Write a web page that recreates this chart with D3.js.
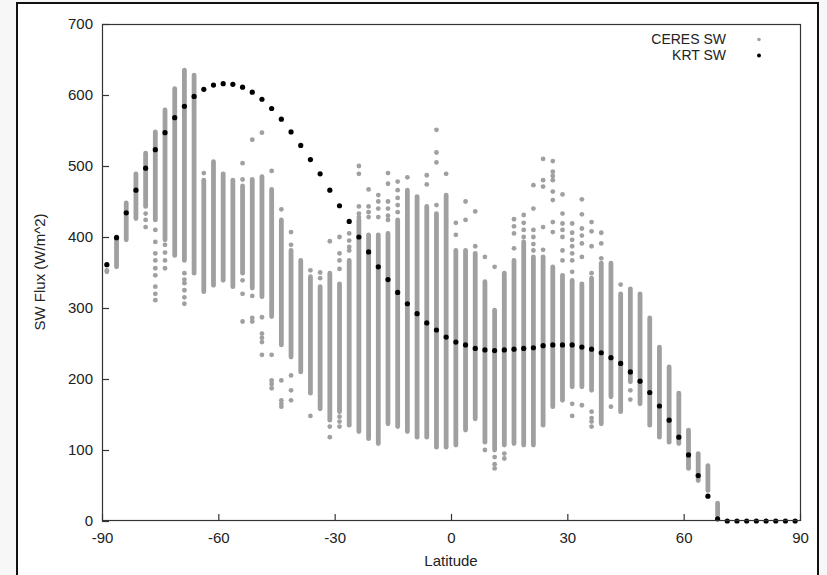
<!DOCTYPE html>
<html>
<head>
<meta charset="utf-8">
<script src="https://cdn.jsdelivr.net/npm/d3@7"></script>
<style>
  html, body { margin: 0; padding: 0; background: #f7f7f7; }
  svg { display: block; }
  text { font-family: "Liberation Sans", Arial, sans-serif; fill: #222; }
</style>
</head>
<body>
<svg id="chart" width="827" height="575"></svg>
<script>

// Latitude band centres (degrees)
var latitudes = [-88.75, -86.25, -83.75, -81.25, -78.75, -76.25, -73.75, -71.25, -68.75, -66.25,
    -63.75, -61.25, -58.75, -56.25, -53.75, -51.25, -48.75, -46.25, -43.75, -41.25,
    -38.75, -36.25, -33.75, -31.25, -28.75, -26.25, -23.75, -21.25, -18.75, -16.25,
    -13.75, -11.25, -8.75, -6.25, -3.75, -1.25, 1.25, 3.75, 6.25, 8.75,
    11.25, 13.75, 16.25, 18.75, 21.25, 23.75, 26.25, 28.75, 31.25, 33.75,
    36.25, 38.75, 41.25, 43.75, 46.25, 48.75, 51.25, 53.75, 56.25, 58.75,
    61.25, 63.75, 66.25, 68.75, 71.25, 73.75, 76.25, 78.75, 81.25, 83.75,
    86.25, 88.75];

// KRT SW flux, one value per band
var krtSW = [361, 399, 434, 466, 497, 523, 547, 568, 584, 598,
    608, 614, 616, 615, 611, 604, 594, 581, 566, 548,
    529, 509, 489, 466, 444, 422, 400, 379, 358, 340,
    322, 306, 292, 279, 269, 259, 252, 248, 243, 241,
    240, 241, 242, 243, 244, 247, 248, 248, 248, 245,
    242, 237, 230, 222, 210, 197, 181, 162, 142, 118,
    93, 64, 35, 3, 0, 0, 0, 0, 0, 0,
    0, 0];

// CERES SW: densely packed range of each band (low / high)
var ceresLow = [351, 358, 396, 426, 443, 424, 396, 374, 367, 349,
    323, 332, 339, 330, 349, 328, 316, 288, 248, 231,
    210, 180, 158, 142, 154, 135, 126, 116, 109, 137,
    133, 126, 118, 118, 104, 104, 107, 128, 144, 111,
    100, 107, 109, 107, 107, 135, 161, 170, 189, 189,
    184, 137, 175, 154, 196, 165, 135, 118, 111, 109,
    74, 57, 43, 8, 0, 0, 0, 0, 0, 0,
    0, 0];
var ceresHigh = [353, 400, 448, 489, 518, 548, 579, 609, 635, 628,
    480, 506, 489, 480, 472, 481, 485, 467, 424, 381,
    367, 344, 330, 349, 334, 367, 424, 403, 403, 405,
    424, 466, 457, 443, 433, 459, 381, 381, 377, 337,
    297, 349, 367, 393, 372, 372, 358, 346, 339, 334,
    342, 363, 363, 320, 327, 320, 286, 245, 217, 180,
    128, 95, 78, 25, 0, 0, 0, 0, 0, 0,
    0, 0];

// CERES SW: scattered points outside the dense range
var ceresOutliers = [[], [], [], [], [433, 424, 414],
    [410, 393, 377, 367, 356, 346, 330, 320, 311],
    [389, 378, 367, 356], [], [349, 340, 335, 325, 315, 306], [],
    [490], [], [], [], [504, 481, 339, 320, 281],
    [537, 317, 286, 281], [547, 287, 264, 258, 252, 234], [493, 234, 198, 193, 187],
    [439, 198, 170, 165, 161], [407, 389, 205, 184, 170],
    [], [353, 148], [350, 342], [394, 133, 118], [400, 377, 367, 355, 147, 140, 133],
    [405, 395, 386, 381], [500, 489, 443, 433, 428], [467, 443, 435, 428],
    [459, 450, 440, 428], [490, 475, 450, 440, 430, 424],
    [478, 466, 455, 445, 435], [484], [], [487, 474], [551, 519, 505, 445],
    [489], [420, 403], [450, 424], [436, 387], [372, 100],
    [358, 90, 80, 74], [95, 88], [425, 415, 405, 384], [431, 420, 410, 400],
    [473, 440, 410, 400, 390, 381],
    [510, 480, 471, 414, 382], [507, 492, 486, 480, 464, 452, 421, 407],
    [460, 433, 419, 410, 400, 381, 367], [419, 406, 396, 387, 377, 367, 351, 165, 148],
    [453, 432, 412, 402, 391, 372, 163],
    [421, 408, 387, 349, 154, 145, 140, 133], [406, 391, 370], [161], [333], [184, 171],
    [], [], [], [], [],
    [], [], [], [], [], [], [], [], [], [],
    [], []];

var xTicks = [-90, -60, -30, 0, 30, 60, 90];
var yTicks = [0, 100, 200, 300, 400, 500, 600, 700];
var legendLabels = ["CERES SW", "KRT SW"];

var grey = "#a0a0a0";
var dotR = 2.4;

var svg = d3.select("#chart");

// outer frame
svg.append("rect")
    .attr("x", 17).attr("y", 3)
    .attr("width", 801).attr("height", 590)
    .attr("fill", "#fff")
    .attr("stroke", "#111")
    .attr("stroke-width", 2);

var x = d3.scaleLinear().domain([-90, 90]).range([102, 800]);
var y = d3.scaleLinear().domain([0, 700]).range([521, 24]);

// CERES dense ranges, drawn as stacked dots (capsules)
var bands = latitudes.map(function (lat, i) {
    return {lat: lat, lo: ceresLow[i], hi: ceresHigh[i]};
}).filter(function (d) { return d.hi > 0; });

svg.append("g").selectAll("rect")
    .data(bands)
    .enter().append("rect")
    .attr("x", function (d) { return x(d.lat) - dotR; })
    .attr("y", function (d) { return y(d.hi) - dotR; })
    .attr("width", dotR * 2)
    .attr("height", function (d) { return y(d.lo) - y(d.hi) + dotR * 2; })
    .attr("rx", dotR)
    .attr("fill", grey);

// CERES scattered points
var outPts = [];
latitudes.forEach(function (lat, i) {
    ceresOutliers[i].forEach(function (v) { outPts.push({lat: lat, v: v}); });
});

svg.append("g").selectAll("circle")
    .data(outPts)
    .enter().append("circle")
    .attr("cx", function (d) { return x(d.lat); })
    .attr("cy", function (d) { return y(d.v); })
    .attr("r", dotR)
    .attr("fill", grey);

// KRT points
svg.append("g").selectAll("circle")
    .data(krtSW)
    .enter().append("circle")
    .attr("cx", function (d, i) { return x(latitudes[i]); })
    .attr("cy", function (d) { return y(d); })
    .attr("r", 2.6)
    .attr("fill", "#000");

// plot border
svg.append("rect")
    .attr("x", 102.5).attr("y", 24.5)
    .attr("width", 698).attr("height", 496)
    .attr("fill", "none")
    .attr("stroke", "#333")
    .attr("stroke-width", 1.2);

// axes (ticks inward), plain hyphen for negatives
var xAxis = svg.append("g")
    .attr("transform", "translate(0,521)")
    .call(d3.axisBottom(x).tickValues(xTicks).tickSize(-7).tickPadding(11).tickFormat(function (d) { return String(d); }));
var yAxis = svg.append("g")
    .attr("transform", "translate(102,0)")
    .call(d3.axisLeft(y).tickValues(yTicks).tickSize(-7).tickPadding(9).tickFormat(function (d) { return String(d); }));

[xAxis, yAxis].forEach(function (g) {
    g.select(".domain").remove();
    g.selectAll(".tick line").attr("stroke", "#333").attr("stroke-width", 1.2);
    g.selectAll(".tick text")
        .attr("font-family", "Liberation Sans, Arial, sans-serif")
        .attr("font-size", 15)
        .attr("fill", "#222");
});

// axis titles
svg.append("text")
    .attr("x", 451).attr("y", 566)
    .attr("text-anchor", "middle")
    .attr("font-size", 15)
    .text("Latitude");

svg.append("text")
    .attr("transform", "translate(45,272) rotate(-90)")
    .attr("text-anchor", "middle")
    .attr("font-size", 15)
    .text("SW Flux (W/m^2)");

// legend
var legend = svg.append("g");
legendLabels.forEach(function (label, i) {
    legend.append("text")
        .attr("x", 726).attr("y", 44 + i * 16)
        .attr("text-anchor", "end")
        .attr("font-size", 14)
        .text(label);
    legend.append("circle")
        .attr("cx", 759).attr("cy", 39.5 + i * 16)
        .attr("r", i == 0 ? 1.8 : 2)
        .attr("fill", i == 0 ? grey : "#000");
});

</script>
</body>
</html>
